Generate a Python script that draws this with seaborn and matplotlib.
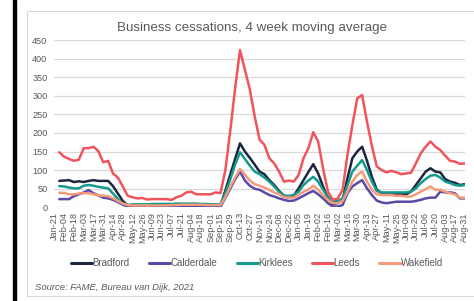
import numpy as np
import pandas as pd
import matplotlib
matplotlib.use("Agg")
import matplotlib.pyplot as plt
from matplotlib.lines import Line2D
from matplotlib.patches import Rectangle
import seaborn as sns

# ---- data ----
tick_labels = ["Jan-21", "Feb-04", "Feb-18", "Mar-03", "Mar-17", "Mar-31", "Apr-14", "Apr-28",
               "May-12", "May-26", "Jun-09", "Jun-23", "Jul-07", "Jul-21", "Aug-04", "Aug-18",
               "Sep-01", "Sep-15", "Sep-29", "Oct-13", "Oct-27", "Nov-10", "Nov-24", "Dec-08",
               "Dec-22", "Jan-05", "Jan-19", "Feb-02", "Feb-16", "Mar-02", "Mar-16", "Mar-30",
               "Apr-13", "Apr-27", "May-11", "May-25", "Jun-08", "Jun-22", "Jul-06", "Jul-20",
               "Aug-03", "Aug-17", "Aug-31"]

areas = ["Bradford", "Calderdale", "Kirklees", "Leeds", "Wakefield"]

bradford = [np.nan,
            71, 72, 73, 68, 70, 68, 71, 73, 71, 71, 71, 57, 37, 17, 5,
            4, 4, 4, 4, 4, 4, 4, 4, 4, 4, 5, 5, 5, 5, 5, 4, 4, 4, 4,
            45, 88, 130, 172,
            150, 133, 115, 96,
            89, 73, 60, 44, 31, 30, 31, 51, 73, 95, 116, 91, 56, 24, 8, 11, 20, 78, 132,
            150, 163, 125, 82, 47, 38, 35, 35, 35, 35, 35, 42, 60, 78, 96, 105, 96, 94, 76, 69, 66, 60, 62]

calderdale = [np.nan,
              22, 22, 22, 30, 35, 40, 46, 38, 32, 26, 24, 20, 14, 7, 2,
              2, 2, 1, 1, 1, 1, 1, 1, 1, 1, 2, 2, 2, 2, 2, 2, 2, 2, 2,
              25, 50, 75, 96,
              72, 58, 50, 47,
              40, 33, 29, 24, 20, 17, 18, 24, 31, 38, 44, 35, 24, 11, 2, 2, 6, 38, 56,
              65, 73, 51, 33, 18, 13, 11, 13, 15, 15, 15, 15, 17, 20, 24, 26, 26, 42, 40, 40, 38, 24, 24]

kirklees = [np.nan,
            57, 56, 53, 51, 51, 58, 60, 58, 55, 53, 51, 37, 22, 10, 6,
            8, 8, 8, 8, 9, 9, 9, 9, 9, 10, 10, 10, 10, 10, 9, 9, 8, 8, 8,
            38, 75, 115, 148,
            130, 112, 96, 89,
            80, 69, 56, 42, 30, 30, 33, 42, 60, 72, 82, 69, 47, 29, 17, 17, 24, 60, 96,
            112, 127, 100, 69, 44, 40, 40, 40, 40, 40, 40, 42, 51, 65, 76, 85, 87, 80, 69, 65, 60, 58, 60]

leeds = [np.nan,
         148, 136, 130, 125, 128, 159, 159, 163, 151, 121, 125, 91, 80, 56, 31,
         27, 24, 25, 21, 22, 22, 22, 22, 20, 27, 31, 40, 42, 35, 35, 35, 35, 40, 38,
         100, 205, 320, 423,
         370, 318, 245, 182,
         168, 132, 118, 96, 69, 72, 69, 87, 132, 159, 202, 177, 105, 42, 20, 24, 47, 141, 221,
         293, 302, 230, 165, 110, 100, 94, 98, 94, 89, 91, 93, 118, 145, 163, 177, 163, 154, 139, 125, 123, 117, 118]

wakefield = [np.nan,
             39, 39, 35, 35, 37, 38, 38, 35, 32, 31, 30, 24, 17, 10, 6,
             5, 5, 5, 5, 5, 5, 5, 5, 6, 6, 7, 7, 7, 7, 7, 6, 6, 6, 6,
             28, 55, 80, 103,
             88, 72, 62, 58,
             53, 47, 40, 35, 27, 26, 26, 33, 42, 48, 58, 47, 33, 20, 11, 11, 17, 42, 69,
             87, 96, 69, 47, 35, 33, 33, 33, 31, 31, 29, 29, 35, 42, 49, 56, 47, 47, 42, 38, 35, 26, 26]

colors = {"Bradford": "#1c2640", "Calderdale": "#5a4aa6", "Kirklees": "#139a8c",
          "Leeds": "#f2545b", "Wakefield": "#f59a7b"}

series = {"Bradford": bradford, "Calderdale": calderdale, "Kirklees": kirklees,
          "Leeds": leeds, "Wakefield": wakefield}

frames = []
for name in areas:
    vals = series[name]
    frames.append(pd.DataFrame({"week": np.arange(len(vals)), "value": vals, "area": name}))
df = pd.concat(frames, ignore_index=True)

# ---- style ----
sns.set_style("white")
plt.rcParams["font.family"] = ["Liberation Sans", "DejaVu Sans"]
txt = "#595959"

fig = plt.figure(figsize=(4.74, 3.01), dpi=100)
W, H = 474, 301

# frame decorations
fig.patches.append(Rectangle((13 / W, 0), 3 / W, 1, transform=fig.transFigure,
                             color="black", zorder=0))
for (x0, y0, x1, y1) in [(27, 11, 27, 296), (27, 11, 474, 11), (27, 296, 474, 296)]:
    fig.lines.append(Line2D([x0 / W, x1 / W], [1 - y0 / H, 1 - y1 / H],
                            transform=fig.transFigure, color="#d9d9d9", lw=0.8))

left, right, top, bottom = 54.4, 464.7, 40, 207.3
ax = fig.add_axes([left / W, 1 - bottom / H, (right - left) / W, (bottom - top) / H])

sns.lineplot(data=df, x="week", y="value", hue="area", palette=colors,
             hue_order=areas, linewidth=1.8, legend=False, ax=ax)

ax.set_xlim(0, 84)
ax.set_ylim(0, 450)
ax.set_yticks(np.arange(0, 451, 50))
ax.set_xticks(np.arange(0, 85, 2))
ax.set_xticklabels(tick_labels, rotation=90)
ax.tick_params(axis="both", length=0, labelsize=6.6, colors=txt)
ax.tick_params(axis="x", pad=3.5)
ax.tick_params(axis="y", pad=5)
ax.set_xlabel("")
ax.set_ylabel("")
ax.yaxis.grid(True, color="#d9d9d9", lw=0.9)
ax.xaxis.grid(False)
ax.set_axisbelow(True)
for s in ax.spines.values():
    s.set_visible(False)

fig.text(252 / W, 1 - 28 / H, "Business cessations, 4 week moving average",
         ha="center", va="center", fontsize=9.6, color=txt)

handles = [Line2D([0], [0], color=colors[a], lw=2.2) for a in areas]
fig.legend(handles, areas, loc="center", bbox_to_anchor=(257 / W, 1 - 263 / H),
           ncol=5, frameon=False, fontsize=7, labelcolor=txt,
           handlelength=2.2, handletextpad=0.0, columnspacing=2.0)

fig.text(35 / W, 1 - 287 / H, "Source: FAME, Bureau van Dijk, 2021",
         ha="left", va="center", fontsize=6.8, color=txt, style="italic")

fig.savefig("out.png", dpi=100)
